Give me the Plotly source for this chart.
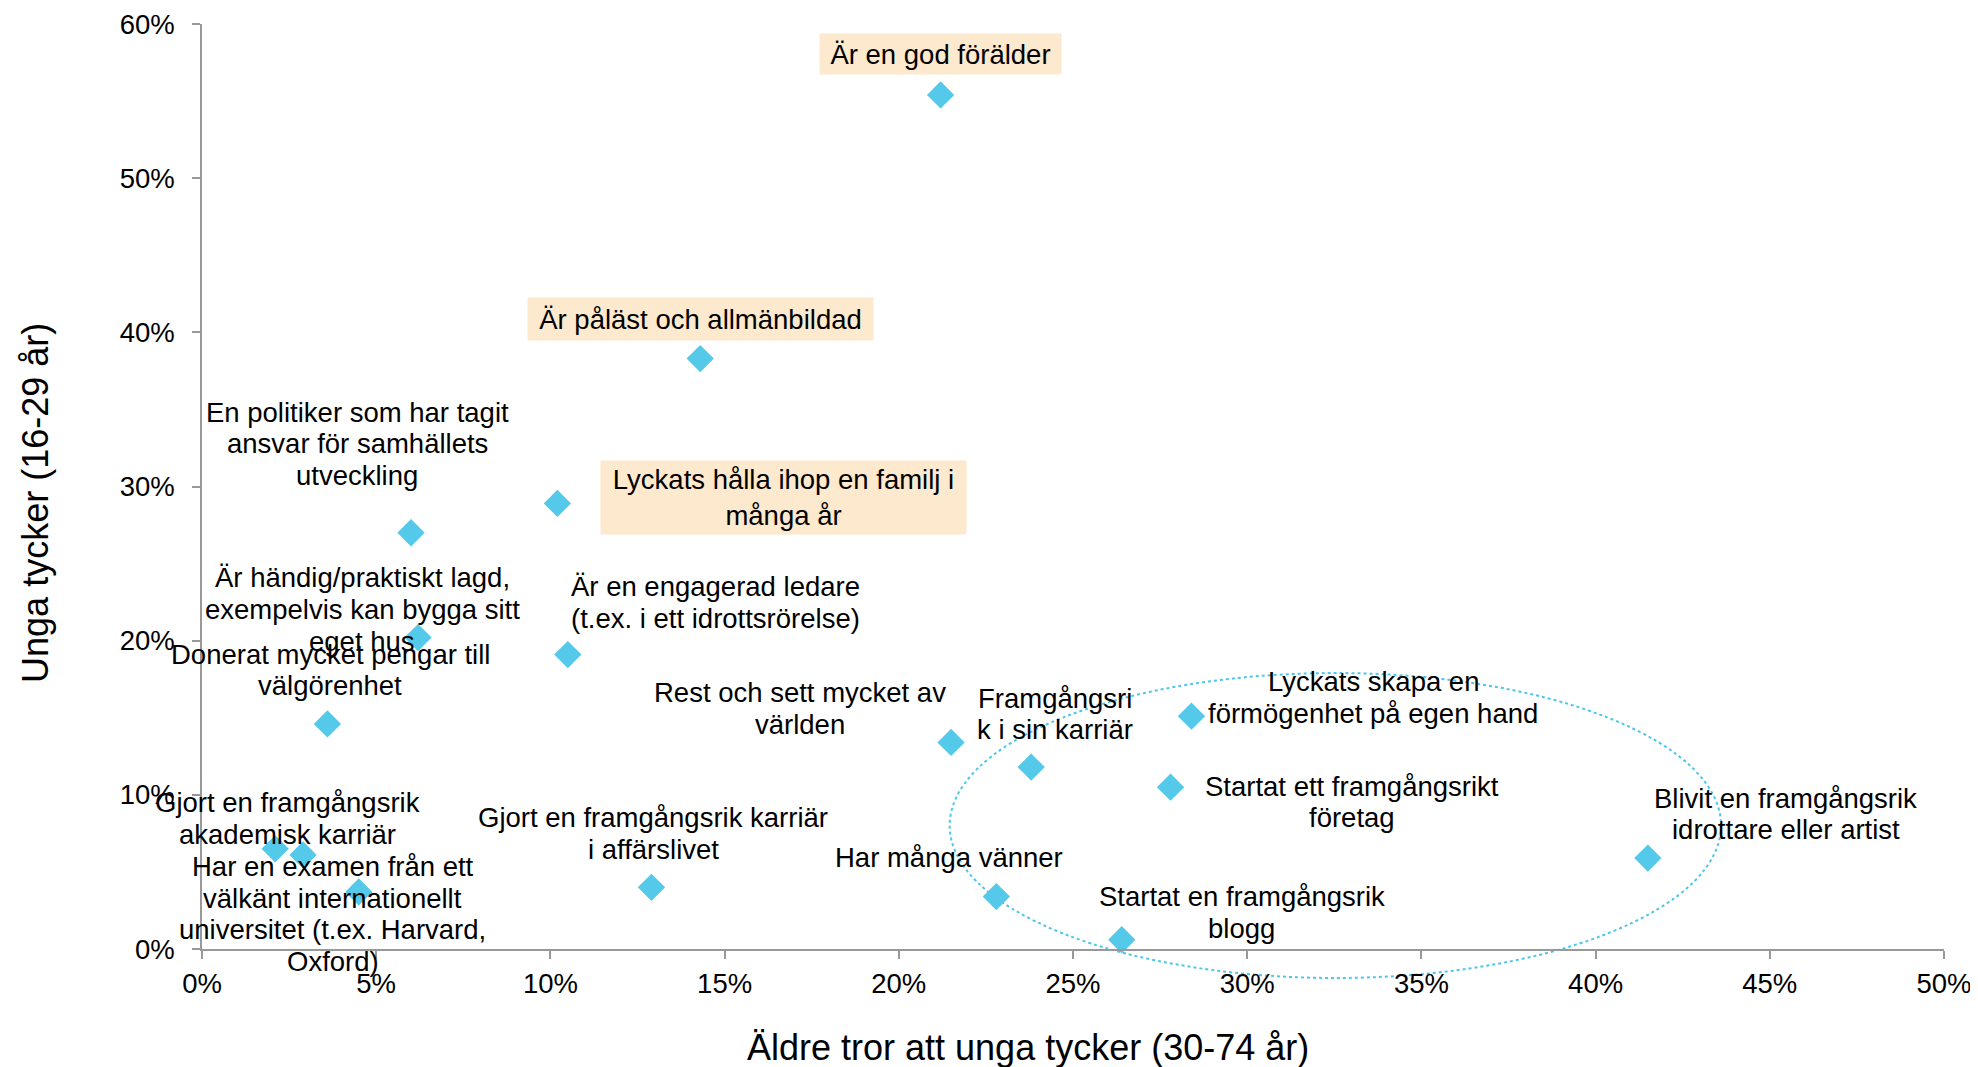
import plotly.graph_objects as go

# Andel som tycker att en person är framgångsrik om hen ...
labels = [
    "Är en god förälder",
    "Är påläst och allmänbildad",
    "Lyckats hålla ihop en familj i<br>många år",
    "En politiker som har tagit<br>ansvar för samhällets<br>utveckling",
    "Är händig/praktiskt lagd,<br>exempelvis kan bygga sitt<br>eget hus",
    "Är en engagerad ledare<br>(t.ex. i ett idrottsrörelse)",
    "Donerat mycket pengar till<br>välgörenhet",
    "Rest och sett mycket av<br>världen",
    "Framgångsri<br>k i sin karriär",
    "Lyckats skapa en<br>förmögenhet på egen hand",
    "Startat ett framgångsrikt<br>företag",
    "Blivit en framgångsrik<br>idrottare eller artist",
    "Har många vänner",
    "Startat en framgångsrik<br>blogg",
    "Gjort en framgångsrik karriär<br>i affärslivet",
    "Gjort en framgångsrik<br>akademisk karriär",
    "",
    "Har en examen från ett<br>välkänt internationellt<br>universitet (t.ex. Harvard,<br>Oxford)",
]
aldre = [21.2, 14.3, 10.2, 6.0, 6.2, 10.5, 3.6, 21.5, 23.8, 28.4, 27.8, 41.5, 22.8, 26.4, 12.9, 2.1, 2.9, 4.5]
unga = [55.4, 38.3, 28.9, 27.0, 20.2, 19.1, 14.6, 13.4, 11.8, 15.1, 10.5, 5.9, 3.4, 0.6, 4.0, 6.5, 6.1, 3.7]

x_ticks = [0, 5, 10, 15, 20, 25, 30, 35, 40, 45, 50]
y_ticks = [0, 10, 20, 30, 40, 50, 60]

x_title = "Äldre tror att unga tycker (30-74 år)"
y_title = "Unga tycker (16-29 år)"

# label placement relative to the marker (screen px, +y = down)
label_offsets = [
    (0, -41), (0, -40), (226, -6), (-54, -89), (-56, -28), (148, -52),
    (3, -54), (-151, -34), (24, -53), (182, -19), (181, 15), (138, -44),
    (-47, -39), (120, -27), (2, -54), (12, -30), (0, 0), (-26, 22),
]
# highlighted labels: index -> (box width, box height)
highlight = {0: (235, 34), 1: (339, 36), 2: (359, 67)}

FONT = "Liberation Sans, Arial, sans-serif"
FS = 27.5
LINE_H = 31.7
BLUE = "#55C9EA"

fig = go.Figure(go.Scatter(
    x=aldre,
    y=unga,
    mode="markers",
    marker=dict(symbol="diamond", size=21, color=BLUE, line=dict(width=0)),
    hovertext=[t.replace("<br>", " ") for t in labels],
    hoverinfo="text",
    cliponaxis=False,
))

annotations = []
for i, (txt, xv, yv) in enumerate(zip(labels, aldre, unga)):
    if not txt:
        continue
    dx, dy = label_offsets[i]
    if i in highlight:
        w, h = highlight[i]
        annotations.append(dict(
            x=xv, y=yv, text=txt, showarrow=False, xshift=dx, yshift=-dy,
            xanchor="center", yanchor="middle", bgcolor="#FDE9CD",
            width=w, height=h, borderpad=3,
            font=dict(family=FONT, size=FS, color="black"),
        ))
        continue
    lines = txt.split("<br>")
    n = len(lines)
    for k, line in enumerate(lines):
        annotations.append(dict(
            x=xv, y=yv, text=line, showarrow=False, xshift=dx,
            yshift=-dy + ((n - 1) / 2 - k) * LINE_H,
            xanchor="center", yanchor="middle",
            font=dict(family=FONT, size=FS, color="black"),
        ))

# axis titles, placed like in the original (x title sits a bit left of centre)
annotations.append(dict(
    xref="paper", yref="paper", x=0.474, y=-0.106, text=x_title, showarrow=False,
    xanchor="center", yanchor="middle", font=dict(family=FONT, size=36, color="black"),
))
annotations.append(dict(
    xref="paper", yref="paper", x=-0.096, y=0.482, text=y_title, showarrow=False,
    textangle=-90, xanchor="center", yanchor="middle",
    font=dict(family=FONT, size=36, color="black"),
))

# page body adds an 8px offset, margins compensate for it
fig.update_layout(
    width=1978,
    height=1067,
    margin=dict(l=194, r=42, t=16, b=126),
    paper_bgcolor="white",
    plot_bgcolor="white",
    showlegend=False,
    font=dict(family=FONT, size=FS, color="black"),
    annotations=annotations,
    xaxis=dict(
        range=[0, 50], tickvals=x_ticks, ticktext=[f"{v}%" for v in x_ticks],
        showgrid=False, zeroline=False, showline=True, linecolor="#999999", linewidth=1.5,
        ticks="outside", ticklen=8, tickcolor="#999999", tickwidth=1.5,
        tickfont=dict(size=FS), ticklabelstandoff=1, automargin=False,
    ),
    yaxis=dict(
        range=[0, 60], tickvals=y_ticks, ticktext=[f"{v}%" for v in y_ticks],
        showgrid=False, zeroline=False, showline=True, linecolor="#999999", linewidth=1.5,
        ticks="outside", ticklen=8, tickcolor="#999999", tickwidth=1.5,
        tickfont=dict(size=FS), ticklabelstandoff=12, automargin=False,
    ),
)

# dotted ellipse around the "success" items (domain refs so it is not clipped)
ell_x = (21.46, 43.6)
ell_y = (-1.88, 17.9)
fig.add_shape(
    type="circle", xref="x domain", yref="y domain",
    x0=ell_x[0] / 50, x1=ell_x[1] / 50, y0=ell_y[0] / 60, y1=ell_y[1] / 60,
    line=dict(color="#4DC6EA", width=2, dash="dot"), layer="below",
)

fig.write_html("out.html")
